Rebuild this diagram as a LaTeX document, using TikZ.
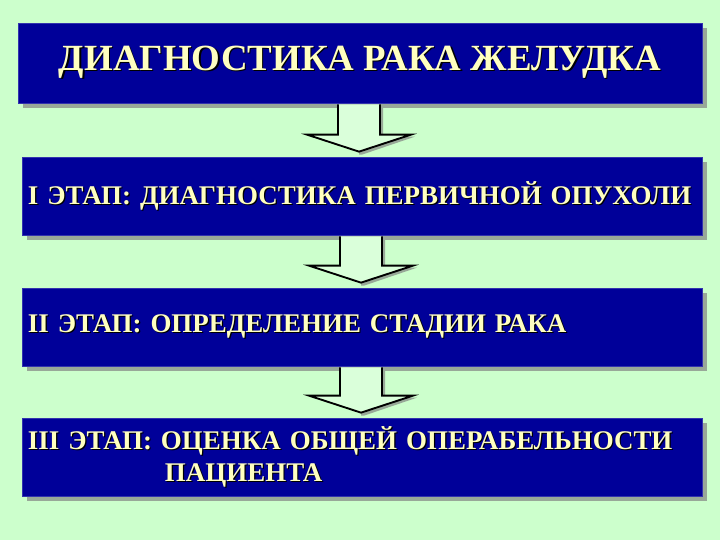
\documentclass[tikz,border=0pt]{standalone}
\usepackage{fontspec}
\setmainfont{Liberation Serif}
\usetikzlibrary{calc,shadows}
\definecolor{bgreen}{HTML}{CCFFCC}
\definecolor{navy}{HTML}{000099}
\definecolor{txtyellow}{HTML}{FFFFC0}
\definecolor{shadowgrey}{HTML}{98A898}
\definecolor{arrowfill}{HTML}{DAFFDA}
\newcommand{\shtxt}[1]{\makebox[0pt][l]{\hspace{1pt}\raisebox{-1pt}{\color{black}#1}}#1}
\tikzset{
  box/.style={fill=navy, draw=navy!80!white, line width=0.6pt, text=txtyellow,
    font=\bfseries\fontsize{23}{27.3}\selectfont,
    drop shadow={shadow xshift=4pt, shadow yshift=-4pt, fill=shadowgrey, opacity=1}},
  titlebox/.style={box, minimum width=20.52cm, minimum height=2.4cm,
    font=\bfseries\fontsize{31.5}{36}\selectfont},
  stagebox/.style={box, minimum width=20.4cm, minimum height=2.34cm,
    text width=20.04cm, inner xsep=0.18cm, align=left},
  blockarrow/.style={fill=arrowfill, draw=black, line width=1.6pt, line join=miter},
  blockshadow/.style={fill=shadowgrey, draw=none}
}
\begin{document}
\begin{tikzpicture}[x=0.03cm, y=-0.03cm]
\fill[bgreen] (0,0) rectangle (720,540);
\useasboundingbox (0,0) rectangle (720,540);

\node[titlebox] (diag) at (360,63) {\shtxt{ДИАГНОСТИКА РАКА ЖЕЛУДКА}};
\node[stagebox] (st1) at (362,196) {\shtxt{I ЭТАП: ДИАГНОСТИКА ПЕРВИЧНОЙ ОПУХОЛИ}};
\node[stagebox] (st2) at (362,327) {\shtxt{II ЭТАП: ОПРЕДЕЛЕНИЕ СТАДИИ РАКА}};
\node[stagebox] (st3) at (362,457) {\shtxt{III ЭТАП: ОЦЕНКА ОБЩЕЙ ОПЕРАБЕЛЬНОСТИ}\\
  \hspace*{4.11cm}\shtxt{ПАЦИЕНТА}};

% hollow arrows between the boxes
\foreach \a/\b in {diag/st1, st1/st2, st2/st3}
{
    \coordinate (s) at ($(\a.south)+(-1,1)$);
    \coordinate (t) at ($(\b.north -| s)+(0,-5)$);
    \fill[blockshadow] ($(s)+(24,0)$) -- ($(t)+(24,-15)$) -- ($(t)+(56,-15)$)
        -- ($(t)+(3,3)$) -- ($(t)+(0,3)$) -- ($(t)+(0,0)$) -- ($(s)+(21,0)$) -- cycle;
    \draw[blockarrow] ($(s)+(-21,0)$) -- ($(t)+(-21,-17)$) -- ($(t)+(-52,-17)$)
        -- (t) -- ($(t)+(52,-17)$) -- ($(t)+(21,-17)$) -- ($(s)+(21,0)$);
}
\end{tikzpicture}
\end{document}
